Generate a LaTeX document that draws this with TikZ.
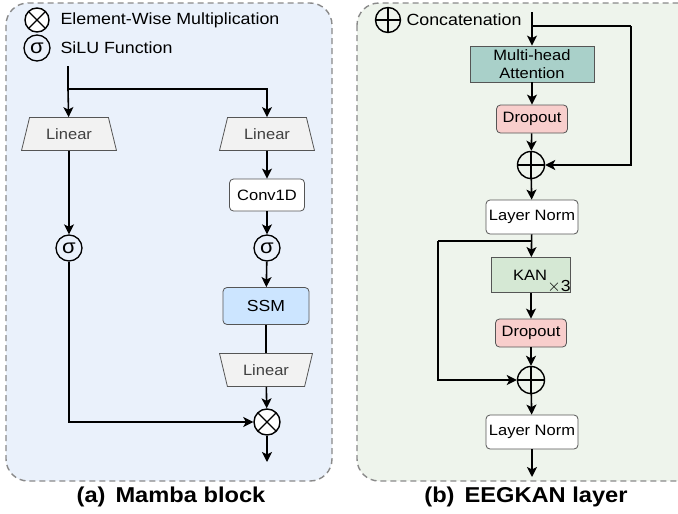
\documentclass[tikz,border=0pt]{standalone}
\usepackage{fontspec}
\setmainfont{Liberation Sans}[FakeStretch=1.1]
\usetikzlibrary{arrows.meta,positioning,shapes.geometric}

\definecolor{bgblue}{HTML}{EAF1FB}
\definecolor{bggreen}{HTML}{EEF4EC}
\definecolor{framegray}{HTML}{8A8A8A}
\definecolor{linfill}{HTML}{F2F2F2}
\definecolor{ssmfill}{HTML}{CCE5FF}
\definecolor{attfill}{HTML}{A9D0C9}
\definecolor{dropfill}{HTML}{F8CECC}
\definecolor{kanfill}{HTML}{D5E8D4}
\definecolor{boxline}{HTML}{555555}

\tikzset{
  panel/.style={draw=framegray, line width=1.4pt, dash pattern=on 6pt off 4pt, rounded corners=22pt},
  flow/.style={line width=1.6pt, -{Stealth[length=10pt,width=10pt,inset=2.5pt]}},
  wire/.style={line width=1.6pt},
  txt/.style={font=\fontsize{15}{17}\selectfont},
  legtxt/.style={font=\fontsize{16.2}{18}\selectfont},
  blk/.style={txt, draw=boxline, line width=0.8pt, rounded corners=4pt, inner sep=0pt},
  linear/.style={txt, trapezium, trapezium stretches=true, draw=boxline, line width=0.8pt,
    fill=linfill, text=black!75, trapezium angle=67, inner sep=0pt, minimum height=33pt},
  sig/.style={circle, draw, line width=1.3pt, inner sep=0pt, minimum size=26pt,
    font=\fontsize{20}{20}\selectfont},
  mult/.style={circle, draw, fill=white, line width=1.4pt, inner sep=0pt, minimum size=#1,
    path picture={\draw[line width=1.4pt] (path picture bounding box.north west) -- (path picture bounding box.south east)
      (path picture bounding box.north east) -- (path picture bounding box.south west);}},
  plus/.style={circle, draw, line width=1.4pt, inner sep=0pt, minimum size=#1,
    path picture={\draw[line width=1.4pt] (path picture bounding box.north) -- (path picture bounding box.south)
      (path picture bounding box.east) -- (path picture bounding box.west);}},
  caption/.style={font=\fontsize{21.5}{24}\selectfont\bfseries}
}

\begin{document}
\begin{tikzpicture}[x=1pt,y=-1pt]
  \useasboundingbox (0,0) rectangle (678,514);
  % panels
  \draw[panel, fill=bgblue] (6,3) rectangle (332,481);
  \draw[panel, fill=bggreen] (357,3) rectangle (700,481);

  % (a) Mamba block
  \node[mult=24pt] (legx) at (37,20) {};
  \node[legtxt, anchor=west] (legxt) at (57,20) {Element-Wise Multiplication};
  \node[sig] (legs) at (37,48) {σ};
  \node[legtxt, anchor=west] (legst) at (57,48) {SiLU Function};

  \coordinate (inA) at (68,66);
  \coordinate (splitA) at (68,89);
  \node[linear, minimum width=95pt] (linL) at (69,134) {Linear};
  \node[linear, minimum width=95pt] (linR) at (267,134) {Linear};
  \node[blk, fill=white, minimum width=75pt, minimum height=32pt] (conv) at (267,195) {Conv1D};
  \node[sig] (sigL) at (69,248) {σ};
  \node[sig] (sigR) at (267,248) {σ};
  \node[blk, fill=ssmfill, minimum width=86pt, minimum height=37pt, font=\fontsize{16}{18}\selectfont] (ssm) at (266,306) {SSM};
  \node[linear, minimum width=93pt, shape border rotate=180] (linO) at (266,370) {Linear};
  \node[mult=26pt] (mul) at (267,422) {};
  \coordinate (outA) at (267,462);

  \draw[wire] (inA) -- (splitA);
  \draw[flow] (splitA) -- (linL);
  \draw[flow] (splitA) -| (linR);
  \draw[flow] (linL) -- (sigL);
  \draw[flow] (linR) -- (conv);
  \draw[flow] (conv) -- (sigR);
  \draw[flow] (sigR) -- (ssm);
  \draw[wire] (ssm) -- (linO);
  \draw[flow] (linO) -- (mul);
  \draw[flow] (sigL) |- (mul);
  \draw[flow] (mul) -- (outA);

  % (b) EEGKAN layer
  \node[plus=25pt] (legp) at (388,20) {};
  \node[legtxt, anchor=west] (legpt) at (403,20) {Concatenation};

  \coordinate (inB) at (532,12);
  \coordinate (splitB) at (532,26);
  \coordinate (turnB) at (631,26);
  \node[blk, rounded corners=0pt, fill=attfill, minimum width=124pt, minimum height=36pt,
    align=center, font=\fontsize{15}{18}\selectfont] (att) at (532,64) {Multi-head\\Attention};
  \node[blk, fill=dropfill, minimum width=71pt, minimum height=28pt] (dropA) at (532,119) {Dropout};
  \node[plus=27pt] (addA) at (531,165) {};
  \node[blk, fill=white, minimum width=92pt, minimum height=34pt] (normA) at (532,217) {Layer Norm};
  \coordinate (splitC) at (532,241);
  \node[blk, rounded corners=0pt, fill=kanfill, minimum width=79pt, minimum height=35pt] (kan) at (531,275) {};
  \node[txt] (kant) at (530,275) {KAN};
  \node[txt, font=\fontsize{16}{18}\selectfont, inner sep=0pt] (kanx) at (559,287) {$\times$3};
  \node[blk, fill=dropfill, minimum width=71pt, minimum height=28pt] (dropB) at (531,333) {Dropout};
  \node[plus=27pt] (addB) at (531,380) {};
  \node[blk, fill=white, minimum width=92pt, minimum height=34pt] (normB) at (532,432) {Layer Norm};
  \coordinate (outB) at (532,477);

  \draw[flow] (inB) -- (att);
  \draw[wire] (splitB) -- (turnB);
  \draw[flow] (turnB) |- (addA);
  \draw[flow] (att) -- (dropA);
  \draw[flow] (dropA) -- (addA);
  \draw[flow] (addA) -- (normA);
  \draw[flow] (normA) -- (kan);
  \draw[wire] (splitC) -- (438,241) coordinate (turnC);
  \draw[flow] (turnC) |- (addB);
  \draw[flow] (kan) -- (dropB);
  \draw[flow] (dropB) -- (addB);
  \draw[flow] (addB) -- (normB);
  \draw[flow] (normB) -- (outB);

  % captions
  \node[caption] (capA) at (171,497) {(a)\hspace{10pt}Mamba block};
  \node[caption] (capB) at (526,497) {(b)\hspace{10pt}EEGKAN layer};
\end{tikzpicture}
\end{document}
